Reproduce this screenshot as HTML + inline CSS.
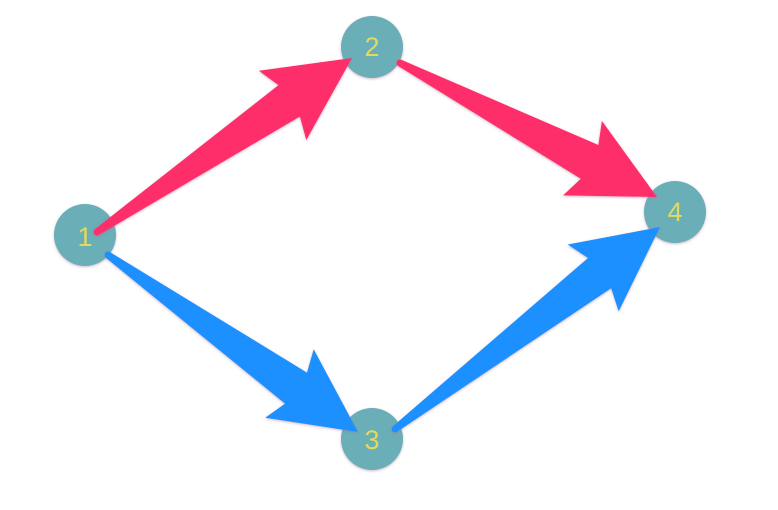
<!DOCTYPE html>
<html><head><meta charset="utf-8"><style>
html,body{margin:0;padding:0;background:#fff;width:778px;height:510px;overflow:hidden}
svg{display:block}
text{font-family:"Liberation Sans",sans-serif;font-size:27px;fill:#e2da5c;text-anchor:middle;dominant-baseline:central}
</style></head><body>
<svg id="s" width="778" height="510" viewBox="0 0 778 510">
<defs>
<filter id="sh" x="-20%" y="-20%" width="140%" height="140%"><feDropShadow dx="0" dy="1" stdDeviation="1.2" flood-color="#a07090" flood-opacity="0.5"/></filter>
</defs>
<g id="nodes" filter="url(#sh)">
<circle cx="85" cy="235" r="31" fill="#6aaeb8"/>
<circle cx="372" cy="47" r="31" fill="#6aaeb8"/>
<circle cx="372" cy="439" r="31" fill="#6aaeb8"/>
<circle cx="675" cy="212" r="31" fill="#6aaeb8"/>
</g>
<g id="arrows" filter="url(#sh)"></g>
<text x="85" y="237">1</text>
<text x="372" y="47">2</text>
<text x="372" y="440">3</text>
<text x="675" y="212">4</text>
</svg>
<script>
var g=document.getElementById('arrows');
function arrow(sx,sy,tx,ty,col){
 var dx=tx-sx,dy=ty-sy,L=Math.hypot(dx,dy),ux=dx/L,uy=dy/L,nx=-uy,ny=ux;
 function p(a,w){return (tx+ux*a+nx*w).toFixed(1)+','+(ty+uy*a+ny*w).toFixed(1);}
 var back=L;
 var pts=[p(0,0),p(-84,42),p(-76,19),p(-back,3.5),p(-back,-3.5),p(-76,-19),p(-84,-42)];
 var pg=document.createElementNS('http://www.w3.org/2000/svg','polygon');
 pg.setAttribute('points',pts.join(' '));pg.setAttribute('fill',col);
 g.appendChild(pg);
 var c=document.createElementNS('http://www.w3.org/2000/svg','circle');
 c.setAttribute('cx',sx);c.setAttribute('cy',sy);c.setAttribute('r',3.5);c.setAttribute('fill',col);
 g.appendChild(c);
}
arrow(97,232,352,58,'#fe2e6a');
arrow(400,63,657,197,'#fe2e6a');
arrow(108,255,358,432,'#1e90ff');
arrow(395,429,660,227,'#1e90ff');
</script>
</body></html>
